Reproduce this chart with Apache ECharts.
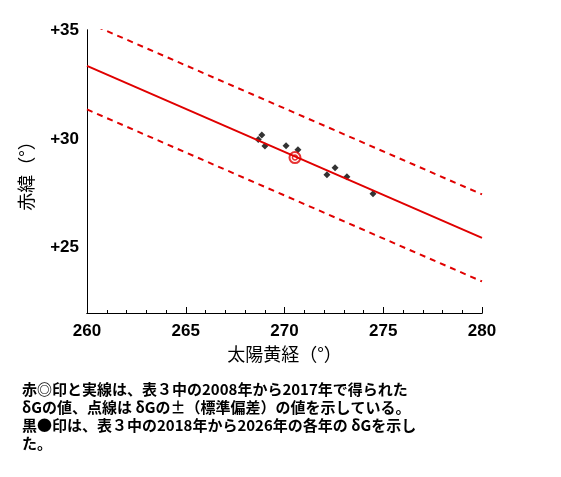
<!DOCTYPE html><html><head><meta charset="utf-8"><script src="https://cdn.jsdelivr.net/npm/echarts@6/dist/echarts.min.js"></script><style>body{margin:0}#c{width:561px;height:477px}</style></head><body><div id="c"></div><script>
const xLine=[260,280];
const fitLine=[33.35,25.45];
const upperLine=[35.35,27.45];
const lowerLine=[31.35,23.45];
const meanPoint=[[270.53,29.14]];
const blackPoints=[[268.85,30.18],[268.67,29.97],[269.01,29.67],[270.08,29.68],[270.68,29.5],[272.15,28.35],[272.56,28.67],[273.16,28.26],[274.48,27.48]];
const xTicks=[260,265,270,275,280];
const yTicks={25:'+25',30:'+30',35:'+35'};
const captions=['赤◎印と実線は、表３中の2008年から2017年で得られた','δGの値、点線は δGの±（標準偏差）の値を示している。','黒●印は、表３中の2018年から2026年の各年の δGを示し','た。'];
const font='"Noto Sans CJK JP"';
const ch=echarts.init(document.getElementById('c'));
const pair=(a)=>xLine.map((x,i)=>[x,a[i]]);
const blank={type:'value',min:0,max:1,axisLine:{show:true,lineStyle:{color:'#000'}},axisTick:{show:false},axisLabel:{show:false},splitLine:{show:false}};
ch.setOption({animation:false,
grid:{left:87,right:79,top:30,bottom:164},
xAxis:[{type:'value',min:260,max:280,interval:5,name:'太陽黄経（°）',nameLocation:'middle',nameGap:32,nameTextStyle:{fontSize:18,color:'#000',fontFamily:font},
axisLine:{onZero:false,lineStyle:{color:'#000'}},axisTick:{inside:true,length:6,lineStyle:{color:'#000'}},splitLine:{show:false},
axisLabel:{fontSize:17,fontWeight:'bold',color:'#000',fontFamily:'Liberation Sans',margin:10},
minorTick:{show:true,splitNumber:5,length:3,lineStyle:{color:'#000'}}},
Object.assign({position:'top'},blank)],
yAxis:[{type:'value',min:22,max:35,interval:1,name:'赤緯（°）',nameLocation:'middle',nameGap:52,nameTextStyle:{fontSize:18,color:'#000',fontFamily:font},
axisLine:{onZero:false,lineStyle:{color:'#000'}},axisTick:{show:false},splitLine:{show:false},
axisLabel:{fontSize:17,fontWeight:'bold',color:'#000',fontFamily:'Liberation Sans',formatter:v=>yTicks[v]||''}},
Object.assign({position:'right'},blank)],
graphic:captions.map((t,i)=>({type:'text',left:22,top:382+i*18,style:{text:t,fontSize:15,fontWeight:'bold',fill:'#000',fontFamily:font}})),
series:[
{type:'line',data:pair(fitLine),symbol:'none',lineStyle:{color:'#e00000',width:2}},
{type:'line',data:pair(upperLine),symbol:'none',lineStyle:{color:'#e00000',width:2,type:[6,5]}},
{type:'line',data:pair(lowerLine),symbol:'none',lineStyle:{color:'#e00000',width:2,type:[6,5]}},
{type:'scatter',data:blackPoints,symbol:'diamond',symbolSize:7,itemStyle:{color:'#000'}},
{type:'scatter',data:meanPoint,symbol:'circle',symbolSize:11,itemStyle:{color:'rgba(0,0,0,0)',borderColor:'#e00000',borderWidth:2}},
{type:'scatter',data:meanPoint,symbol:'circle',symbolSize:5,itemStyle:{color:'rgba(0,0,0,0)',borderColor:'#e00000',borderWidth:1.5}}
]});
</script></body></html>
